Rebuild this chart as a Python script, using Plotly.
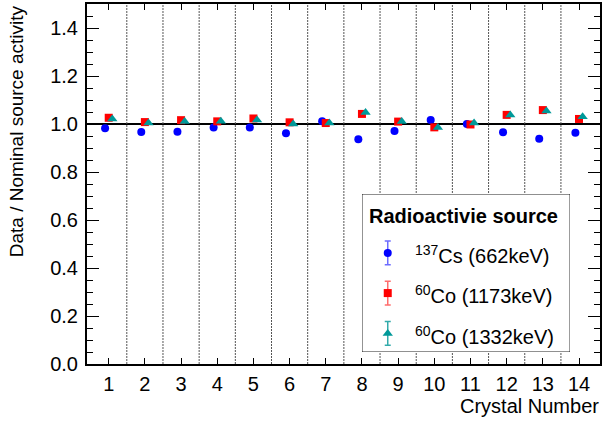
import plotly.graph_objects as go

# ---- data -------------------------------------------------------------
crystals = list(range(1, 15))
cs137_662 = [0.982, 0.967, 0.968, 0.985, 0.985, 0.961, 1.011,
             0.936, 0.971, 1.017, 1.000, 0.966, 0.939, 0.964]
co60_1173 = [1.026, 1.008, 1.016, 1.011, 1.023, 1.007, 1.004,
             1.042, 1.010, 0.986, 0.998, 1.038, 1.058, 1.021]
co60_1332 = [1.021, 1.004, 1.010, 1.011, 1.017, 1.000, 1.004,
             1.048, 1.010, 0.985, 1.004, 1.037, 1.054, 1.030]

series_names = ["<sup>137</sup>Cs (662keV)",
                "<sup>60</sup>Co (1173keV)",
                "<sup>60</sup>Co (1332keV)"]
series_values = [cs137_662, co60_1173, co60_1332]

# ---- styling ------------------------------------------------------------
W, H = 604, 421
L, R, T, B = 87, 2, 2, 57
FONT = "Liberation Sans, Arial, Helvetica, sans-serif"
colors = ["#0000ff", "#ff0000", "#009999"]
bar_colors = ["rgba(60,60,255,0.75)", "rgba(255,60,60,0.75)", "rgba(0,150,150,0.8)"]
symbols = ["circle", "square", "triangle-up"]
sizes = [8, 8, 9]
x_offsets = [-0.1, 0.0, 0.1]
x_range = [0.4, 14.58]
y_range = [0.0, 1.5]


def px_x(p):
    return (p - L) / (W - L - R)


def px_y(p):
    return (H - B - p) / (H - T - B)


fig = go.Figure()

for name, vals, col, sym, sz, off in zip(series_names, series_values,
                                         colors, symbols, sizes, x_offsets):
    fig.add_trace(go.Scatter(
        x=[c + off for c in crystals], y=vals, mode="markers", name=name,
        marker=dict(color=col, symbol=sym, size=sz, line=dict(width=0)),
        showlegend=False, xaxis="x", yaxis="y"))

# separators between crystals
shapes = []
for c in crystals[:-1]:
    shapes.append(dict(type="line", xref="x", yref="y", x0=c + 0.5, x1=c + 0.5,
                       y0=y_range[0], y1=y_range[1], layer="below",
                       line=dict(color="#555555", width=1, dash="2px,1px")))
# unit reference line
shapes.append(dict(type="line", xref="x domain", yref="y", x0=0, x1=1,
                   y0=1.0, y1=1.0, layer="below",
                   line=dict(color="black", width=2)))

# ---- legend box on its own small axes -------------------------------------
box_l, box_r, box_t, box_b = 363, 572, 193, 352
shapes.append(dict(type="rect", xref="x2", yref="y2", x0=0, x1=1, y0=0, y1=1,
                   layer="below", fillcolor="white",
                   line=dict(color="black", width=1)))

key_x = 0.124
key_y = [0.627, 0.373, 0.118]
key_err = 0.075
for name, col, bcol, sym, sz, ky in zip(series_names, colors, bar_colors,
                                        symbols, sizes, key_y):
    fig.add_trace(go.Scatter(
        x=[key_x], y=[ky], mode="markers", showlegend=False,
        marker=dict(color=col, symbol=sym, size=sz, line=dict(width=0)),
        error_y=dict(type="constant", value=key_err, color=bcol,
                     thickness=1.5, width=3),
        xaxis="x2", yaxis="y2", hoverinfo="skip"))

annotations = [
    dict(text="<b>Radioactivie source</b>", xref="x2", yref="y2",
         x=0.024, y=0.862, xanchor="left", yanchor="middle", showarrow=False,
         font=dict(family=FONT, size=20, color="black")),
]
for name, ky in zip(series_names, key_y):
    annotations.append(dict(text=name, xref="x2", yref="y2", x=0.244, y=ky - 0.012,
                            xanchor="left", yanchor="middle", showarrow=False,
                            font=dict(family=FONT, size=20, color="black")))

# axis titles
annotations.append(dict(text="Data / Nominal source activity", xref="paper",
                        yref="paper", x=px_x(16), y=px_y(1), textangle=-90,
                        xanchor="center", yanchor="top", showarrow=False,
                        font=dict(family=FONT, size=19, color="black")))
annotations.append(dict(text="Crystal Number", xref="paper", yref="paper",
                        x=px_x(603), y=px_y(406), xanchor="right",
                        yanchor="middle", showarrow=False,
                        font=dict(family=FONT, size=20, color="black")))

fig.update_layout(
    width=W, height=H,
    margin=dict(l=L, r=R, t=T, b=B, pad=0),
    paper_bgcolor="white", plot_bgcolor="white",
    font=dict(family=FONT, size=20, color="black"),
    showlegend=False,
    shapes=shapes, annotations=annotations,
    xaxis=dict(range=x_range, tickvals=crystals, ticktext=[str(c) for c in crystals],
               ticks="inside", ticklen=6, tickwidth=1, tickcolor="black",
               showline=True, linecolor="black", linewidth=2, mirror="ticks",
               showgrid=False, zeroline=False, ticklabelstandoff=1,
               tickfont=dict(family=FONT, size=20, color="black")),
    yaxis=dict(range=y_range, dtick=0.2, tick0=0, tickformat=".1f",
               ticks="inside", ticklen=12, tickwidth=1, tickcolor="black",
               minor=dict(dtick=0.05, ticks="inside", ticklen=6,
                          tickcolor="black", tickwidth=1, showgrid=False),
               showline=True, linecolor="black", linewidth=2, mirror="ticks",
               showgrid=False, zeroline=False, ticklabelstandoff=3,
               tickfont=dict(family=FONT, size=20, color="black")),
    xaxis2=dict(domain=[px_x(box_l), px_x(box_r)], range=[0, 1], anchor="y2",
                visible=False, fixedrange=True),
    yaxis2=dict(domain=[px_y(box_b), px_y(box_t)], range=[0, 1], anchor="x2",
                visible=False, fixedrange=True),
)

fig.write_html("out.html")
